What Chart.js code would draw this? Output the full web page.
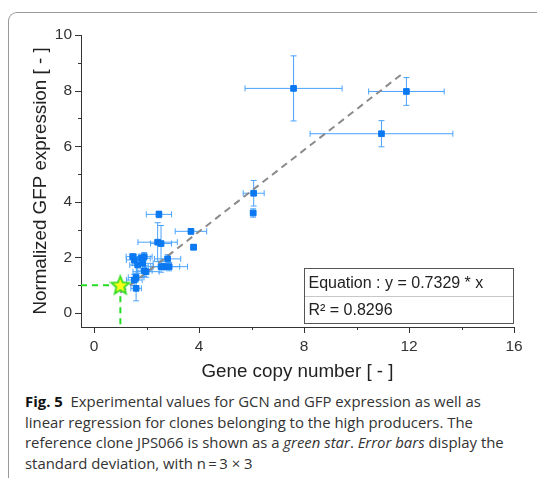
<!DOCTYPE html>
<html>
<head>
<meta charset="utf-8">
<script src="https://cdn.jsdelivr.net/npm/chart.js@4.4.1/dist/chart.umd.min.js"></script>
<style>
  html, body { margin: 0; padding: 0; background: #fff; }
  body { width: 537px; height: 481px; position: relative; overflow: hidden; }
  .frame { position: absolute; left: 8px; top: 12px; width: 540px; height: 465px;
           border-left: 1px solid #9a9a9a; border-top: 1px solid #9a9a9a; border-top-left-radius: 9px; }
  #wrap { position: absolute; left: 0; top: 0; width: 537px; height: 390px; }
  .caption { position: absolute; left: 25px; top: 391px; width: 520px; white-space: nowrap;
             font-family: "Open Sans", sans-serif; font-size: 14.9px; line-height: 20.7px; color: #333; }
  .caption b { color: #111; }
</style>
</head>
<body>
<div class="frame"></div>
<div id="wrap"><canvas id="myChart" width="537" height="390"></canvas></div>
<div class="caption"><b>Fig. 5</b>&nbsp; Experimental values for GCN and GFP expression as well as<br>linear regression for clones belonging to the high producers. The<br>reference clone JPS066 is shown as a <i>green star</i>. <i>Error bars</i> display the<br>standard deviation, with n&thinsp;=&thinsp;3 × 3</div>

<script>
const ctx = document.getElementById('myChart')

// gene copy number (x) and normalized GFP expression (y), with standard deviations
const gcn   = [7.6, 11.9, 10.95, 6.08, 6.06, 2.47, 3.69, 3.79, 2.42, 2.55, 2.8, 2.66, 2.55, 1.91, 1.53, 1.47, 1.79, 1.85, 1.6, 1.53, 1.6, 1.98, 1.66, 2.86, 1.91]
const gcnSd = [1.85, 1.44, 2.72, 0.4, 0.1, 0.48, 0.6, 0.1, 0.75, 0.4, 0.5, 0.6, 0.3, 0.3, 0.3, 0.25, 0.35, 0.4, 0.3, 0.3, 0.2, 0.5, 0.3, 0.7, 0.3]
const gfp   = [8.08, 7.97, 6.45, 4.31, 3.6, 3.55, 2.94, 2.37, 2.55, 2.5, 1.95, 1.67, 1.67, 1.52, 1.91, 2.03, 1.97, 1.79, 1.28, 1.19, 0.89, 1.49, 1.73, 1.67, 2.03]
const gfpSd = [1.17, 0.5, 0.47, 0.46, 0.15, 0.12, 0.1, 0.1, 0.7, 0.65, 0.15, 0.12, 0.2, 0.2, 0.2, 0.1, 0.15, 0.2, 0.15, 0.2, 0.45, 0.2, 0.3, 0.15, 0.15]

// reference clone JPS066
const refX = 1.0
const refY = 1.0

// linear regression through origin
const slope = 0.7329
const r2 = 0.8296
const regX = [1.0, 11.8]

const xTicks = [0, 2, 4, 6, 8, 10, 12, 14, 16]
const yTicks = [0, 1, 2, 3, 4, 5, 6, 7, 8, 9, 10]

const points = gcn.map((x, i) => ({ x: x, y: gfp[i] }))
const regLine = regX.map(x => ({ x: x, y: slope * x }))

// filled star for the reference clone
const star = document.createElement('canvas')
star.width = 22; star.height = 22
const sc = star.getContext('2d')
sc.beginPath()
for (let i = 0; i < 10; i++) {
  const r = i % 2 === 0 ? 9.5 : 4.2
  const a = -Math.PI / 2 + i * Math.PI / 5
  const px = 11 + r * Math.cos(a), py = 11.5 + r * Math.sin(a)
  if (i === 0) sc.moveTo(px, py); else sc.lineTo(px, py)
}
sc.closePath()
sc.fillStyle = '#ffff1a'
sc.fill()
sc.lineWidth = 1.8
sc.strokeStyle = '#33dd22'
sc.stroke()

const errorBars = {
  id: 'errorBars',
  beforeDatasetsDraw(chart) {
    const c = chart.ctx, xs = chart.scales.x, ys = chart.scales.y
    c.save()
    c.strokeStyle = '#4aa3ff'
    c.lineWidth = 1
    const cap = 3
    gcn.forEach((x, i) => {
      const px = xs.getPixelForValue(x), py = ys.getPixelForValue(gfp[i])
      const x0 = xs.getPixelForValue(x - gcnSd[i]), x1 = xs.getPixelForValue(x + gcnSd[i])
      const y0 = ys.getPixelForValue(gfp[i] - gfpSd[i]), y1 = ys.getPixelForValue(gfp[i] + gfpSd[i])
      c.beginPath()
      c.moveTo(x0, py); c.lineTo(x1, py)
      c.moveTo(x0, py - cap); c.lineTo(x0, py + cap)
      c.moveTo(x1, py - cap); c.lineTo(x1, py + cap)
      c.moveTo(px, y0); c.lineTo(px, y1)
      c.moveTo(px - cap, y0); c.lineTo(px + cap, y0)
      c.moveTo(px - cap, y1); c.lineTo(px + cap, y1)
      c.stroke()
    })
    c.restore()
  }
}

const tickMarks = {
  id: 'tickMarks',
  afterDraw(chart) {
    const c = chart.ctx, xs = chart.scales.x, ys = chart.scales.y, a = chart.chartArea
    c.save()
    c.strokeStyle = '#333'
    c.lineWidth = 1
    c.beginPath()
    xTicks.forEach(v => {
      const p = Math.round(xs.getPixelForValue(v)) + 0.5
      const len = v % 4 === 0 ? 6 : 3
      c.moveTo(p, a.bottom); c.lineTo(p, a.bottom + len)
    })
    yTicks.forEach(v => {
      const p = Math.round(ys.getPixelForValue(v)) + 0.5
      const len = v % 2 === 0 ? 6 : 3
      c.moveTo(a.left, p); c.lineTo(a.left - len, p)
    })
    c.stroke()
    c.restore()
  }
}

const equationBox = {
  id: 'equationBox',
  afterDatasetsDraw(chart) {
    const c = chart.ctx, xs = chart.scales.x, ys = chart.scales.y
    const l = Math.round(xs.getPixelForValue(8)) + 0.5, r = Math.round(xs.getPixelForValue(16)) - 0.5
    const t = Math.round(ys.getPixelForValue(1.62)) + 0.5
    const m = Math.round(ys.getPixelForValue(0.6)) + 0.5
    const b = Math.round(ys.getPixelForValue(-0.36)) + 0.5
    c.save()
    c.fillStyle = '#fff'
    c.fillRect(l, t, r - l, b - t)
    c.strokeStyle = '#c8c8c8'
    c.beginPath(); c.moveTo(l, m); c.lineTo(r, m); c.stroke()
    c.strokeStyle = '#555'
    c.strokeRect(l, t, r - l, b - t)
    c.fillStyle = '#222'
    c.font = '16px "Liberation Sans", Arial, sans-serif'
    c.textBaseline = 'middle'
    c.fillText('Equation : y = ' + slope.toFixed(4) + ' * x', l + 4, (t + m) / 2 + 1)
    c.fillText('R² = ' + r2.toFixed(4), l + 4, (m + b) / 2 + 1)
    c.restore()
  }
}

const data = {
  datasets: [{
    data: points,
    type: 'scatter',
    backgroundColor: '#0a78f0',
    borderColor: '#0a78f0',
    pointStyle: 'rect',
    pointRadius: 4,
    order: 1
  }, {
    data: regLine,
    type: 'line',
    borderColor: '#8a8a8a',
    borderWidth: 2,
    borderDash: [7, 5],
    pointRadius: 0,
    order: 2
  }, {
    data: [{ x: -0.5, y: refY }, { x: refX, y: refY }],
    type: 'line',
    borderColor: '#22dd22',
    borderWidth: 2,
    borderDash: [6, 5],
    pointRadius: 0,
    order: 3
  }, {
    data: [{ x: refX, y: refY }, { x: refX, y: -0.5 }],
    type: 'line',
    borderColor: '#22dd22',
    borderWidth: 2,
    borderDash: [6, 5],
    pointRadius: 0,
    order: 3
  }, {
    data: [{ x: refX, y: refY }],
    type: 'scatter',
    pointStyle: star,
    order: 0
  }]
}

const font = { family: '"Liberation Sans", Arial, sans-serif' }

const config = {
  type: 'scatter',
  data: data,
  options: {
    responsive: false,
    animation: false,
    layout: { padding: { left: 0, top: 35, right: 23, bottom: 3 } },
    plugins: { legend: { display: false }, tooltip: { enabled: false } },
    scales: {
      x: {
        type: 'linear',
        min: -0.5, max: 16,
        afterFit: s => { s.height = 60 },
        afterBuildTicks: s => { s.ticks = xTicks.filter(v => v % 4 === 0).map(v => ({ value: v })) },
        grid: { display: false, drawTicks: true, tickLength: 6 },
        border: { display: true, color: '#333', width: 1 },
        ticks: { color: '#333', font: { ...font, size: 15.5 }, padding: 4, maxRotation: 0 },
        title: { display: true, text: 'Gene copy number [ - ]', color: '#222', font: { ...font, size: 18.8 }, padding: { top: 0 } }
      },
      y: {
        type: 'linear',
        min: -0.5, max: 10,
        afterFit: s => { s.width = 81 },
        afterBuildTicks: s => { s.ticks = yTicks.filter(v => v % 2 === 0).map(v => ({ value: v })) },
        grid: { display: false, drawTicks: true, tickLength: 6 },
        border: { display: true, color: '#333', width: 1 },
        ticks: { color: '#333', font: { ...font, size: 15.5 }, padding: 3 },
        title: { display: true, text: 'Normalized GFP expression [ - ]', color: '#222', font: { ...font, size: 18.8 }, padding: { top: 30, bottom: 4 } }
      }
    }
  },
  plugins: [errorBars, tickMarks, equationBox]
}

const myChart = new Chart(ctx, config)
</script>
</body>
</html>
